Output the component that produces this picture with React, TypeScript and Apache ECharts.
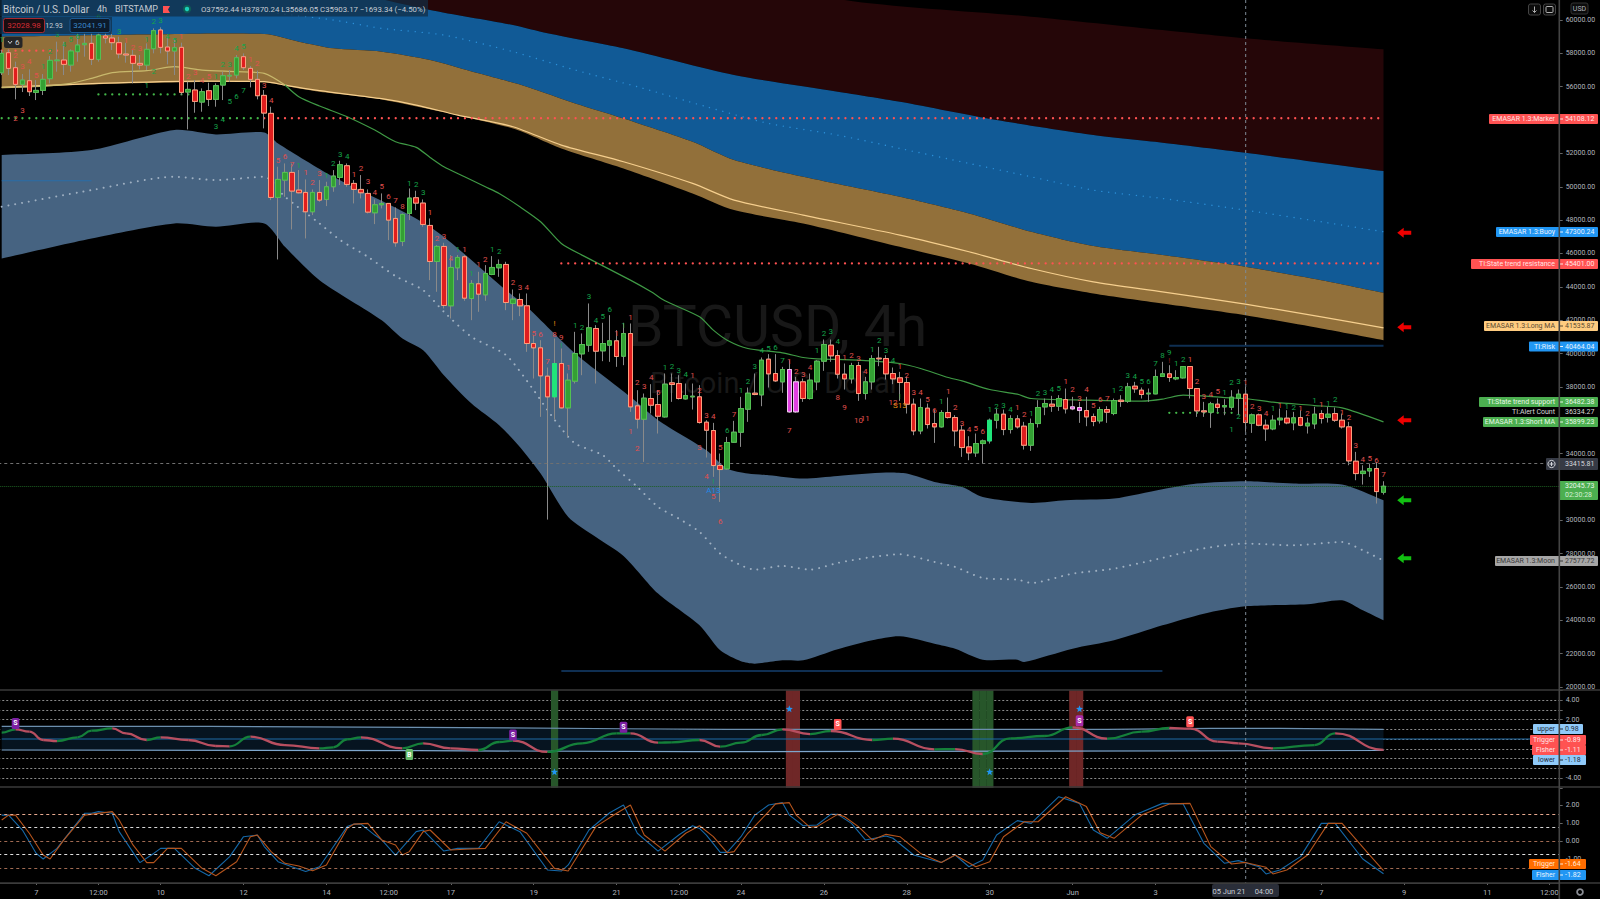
import React, { useEffect, useRef } from "react";
import * as echarts from "echarts";

// ---------- time axis ----------
const barCount = 226;
const tickLabels: Record<number, string> = {
  5: "7", 14: "12:00", 23: "10", 35: "12", 47: "14", 56: "12:00", 65: "17", 77: "19", 89: "21", 98: "12:00",
  107: "24", 119: "26", 131: "28", 143: "30", 155: "Jun", 167: "3", 191: "7", 203: "9", 215: "11", 224: "12:00",
};

// ---------- candles: open, close, low, high ----------
const ohlcPart1 = [
  [56840,58000,56700,58200],[58040,57100,56700,58240],[57140,56140,55240,57500],[56140,56400,55680,56760],[56360,55700,55440,57040],
  [55660,55780,55200,56400],[55780,56440,55500,56760],[56480,57580,56200,57840],[57560,57600,56900,58700],[57600,57340,56700,58700],
  [57300,58140,56900,58240],[58100,58500,57500,59200],[58520,58600,57800,59200],[58600,57640,57300,59200],[57640,59100,57500,60000],
  [59040,58920,58600,59600],[58920,58640,58200,59300],[58640,57960,57700,59000],[57960,57900,57440,58640],[57880,57400,56200,58200],
  [57400,57300,57040,57900],[57300,58240,57000,58600],[58280,59360,58000,59500],[59400,58360,58000,59560],[58380,58140,57340,59000],
  [58140,58340,56700,58900],[58360,55660,55500,58640],[55680,55840,53440,56300],[55800,55120,54440,56400],[55080,55700,54500,55900],
  [55760,55240,54840,56240],[55240,56060,54800,56200],[56100,56660,55200,56900],[56640,56680,56300,57000],[56700,57740,56500,57900],
  [57800,57140,57000,58000],[57100,56440,55960,57240],[56440,55460,55240,56960],[55480,54420,53500,55800],[54400,49360,49200,54800],
  [49360,50440,45640,51200],[50400,50860,49400,51400],[50860,49740,47440,51400],[49800,49640,49600,51000],
];
const ohlcPart2 = [
  [49660,48500,46900,50440],[48500,49660,48300,49840],[49660,49200,49100,50400],[49240,50000,48840,50300],[50000,50640,49700,51000],
  [50560,51320,50100,51560],[51260,50140,50000,51400],[50200,49840,49000,50400],[49840,49640,49300,50700],[49600,48480,48400,49840],
  [48440,48920,47760,49240],[48920,49000,48700,49600],[49000,48000,46800,49000],[48100,46640,46400,48760],[46720,48340,46440,48400],
  [48400,49320,48000,49900],[49340,49020,48600,49760],[49020,47740,47600,49240],[47680,45520,44400,48100],[45520,46420,43700,46500],
  [46420,42880,42700,46640],[42860,45160,42100,45900],[45140,45760,44400,45900],[45800,43320,43160,45900],[43300,44200,42000,44400],
  [44180,43560,42500,44900],[43520,44800,43160,45300],[44740,45160,44700,45840],[45140,45340,44600,45640],[45340,43060,42600,45500],
  [43000,43260,42000,43840],[43240,42860,42240,43600],
];
const ohlcPart3 = [
  [42860,40600,40100,43600],[40600,40340,38500,41100],[40340,38660,36200,40800],[38640,37400,30040,39160],[37400,39400,36040,40900],
  [39400,36740,36700,40300],[36740,38400,35000,38800],[38340,40000,38200,41300],[39980,40540,38700,41200],[40500,41540,40100,43000],
  [41500,40140,38200,41700],[40160,40600,39540,41840],[40500,40760,39500,42300],[40760,39820,39200,41400],[39840,41200,39300,41840],
  [41200,36800,36500,41800],[36860,36060,35500,37800],[36060,37320,33500,37600],[37300,36900,36400,38160],[36940,36240,35200,37800],
  [36200,38160,36160,38800],[38240,38140,37100,38800],[38200,37300,37240,38700],[37280,37480,37240,38200],[37400,37440,36640,38200],
  [37400,35860,35800,38100],[35880,35400,33760,36000],[35380,33280,32600,35840],[33280,33040,31100,34000],[33080,34660,33040,35000],
  [34680,35280,34640,35960],[35280,36700,34400,37400],[36660,37620,35900,37960],[37620,37540,37500,38800],[37520,39600,36840,39760],
  [39660,38780,37960,39960],[38800,38360,38300,39960],[38300,39040,37640,39200],[39040,36500,36440,39600],[36500,38300,36440,38600],
  [38300,37300,37100,38500],[37300,38400,37240,38800],[38300,39540,37800,39600],[39540,40540,38960,40840],[40500,39860,39500,40840],
  [39880,38760,38500,40200],[38760,38480,37840,39400],[38480,39280,38200,39440],[39280,37600,37160,39500],[37600,38300,37240,38600],
  [38300,39700,37840,39900],[39720,39680,39240,40400],[39700,38780,38440,39900],[38800,38480,38160,39160],[38540,38260,37160,38900],
  [38260,36960,36400,38600],[36960,35360,35100,37300],[35360,36760,35160,37300],[36720,35740,35500,37000],[35800,35600,34640,36600],
  [35600,36460,35560,36600],[36460,36160,36100,37360],[36160,35360,34440,36300],
];
const ohlcPart4 = [
  [35400,34360,33800,35700],[34400,34040,33600,35040],[34040,34600,33800,35200],[34600,34760,33400,34840],[34760,36000,34600,36100],
  [36000,36360,35500,36700],[36360,35440,35100,36640],[35440,36100,35200,36300],[36080,35600,35500,36300],[35640,34500,34240,35900],
  [34500,35800,34160,36100],[35800,36760,35560,37200],[36800,37000,36300,37300],[36960,36840,36500,37460],[36840,37300,36560,37500],
  [37240,36680,36400,37900],[36680,36800,36600,37400],[36760,36580,35840,37100],[36580,36200,35640,37400],[36220,35920,35640,36400],
  [35960,36640,35800,36800],[36640,36480,35840,36840],[36400,37180,36300,37300],[37200,37120,36800,37500],[37140,38000,37040,38240],
  [38040,37880,37640,38300],[37800,37540,37300,37960],[37580,37620,37100,37900],[37580,38620,37560,39040],[38620,38780,38600,39500],
  [38780,38560,38300,39300],[38480,38560,38400,39000],[38540,39220,38500,39240],[39220,37900,37300,39240],[37900,36560,36200,37900],
  [36560,36500,36200,37100],[36480,36980,35540,37100],[36960,36760,36500,37300],[36800,36880,36300,37260],[36780,37380,36600,37800],
  [37320,37560,36300,37840],[37560,35860,35300,38000],[35820,36320,35240,36400],[36320,35700,35640,36400],[35700,35480,34760,36040],
  [35480,36000,35400,36300],[36020,36120,35700,36700],[36120,35840,35760,36600],[35840,36140,35400,36500],[36160,35700,35640,36600],
  [35660,35820,35200,36160],[35780,36360,35480,36800],[36400,36100,35800,36600],[36180,36360,35860,36800],[36400,36000,35900,36760],
  [36000,35600,35500,36400],[35600,33560,33300,35900],[33540,32800,32400,34100],[32800,32940,32140,33300],[32960,33100,32600,33400],
  [33100,31720,31000,33500],[31680,32040,31540,32340],
];
const magentaBars = [114, 115, 155, 156];
const brightBars = [80, 143];

// ---------- EMASAR bands: [bar, price] ----------
const redBandTop = [[40,66000],[90,64000],[122,61200],[149,60200],[168,59400],[180,58900],[200,58240]];
const blueBandTop = [[0,65000],[40,62600],[62,60600],[74,59700],[79,59200],[90,58300],[106,56700],[121,55700],[130,55100],[144,54000],[158,53100],[168,52640],[180,52040],[200,50940]];
const orangeBandTop = [[0,59000],[16,59100],[38,59160],[43,58700],[48,58300],[55,58100],[62,57600],[69,56800],[76,56000],[83,55000],[90,54100],[100,52700],[106,51600],[116,50600],[130,49400],[140,48400],[149,47300],[158,46440],[168,45900],[180,45200],[191,44400],[200,43640]];
const orangeBandBottom = [[0,55900],[14,56150],[29,56280],[38,56260],[41,56050],[46,55700],[55,55240],[74,53500],[81,52300],[90,51100],[100,49600],[106,48600],[116,47800],[130,46400],[140,45400],[149,44300],[158,43600],[168,43000],[180,42300],[191,41500],[200,40800]];
const longMA = [[0,55960],[14,56200],[29,56340],[38,56300],[41,56100],[46,55760],[55,55280],[60,54900],[66,54300],[74,53600],[81,52500],[90,51500],[100,50200],[106,49200],[116,48300],[130,47100],[140,46100],[149,45100],[158,44300],[168,43700],[180,42960],[191,42200],[200,41535]];
const buoyDots = [[40,60400],[48,60000],[55,59500],[64,59100],[74,58100],[83,57000],[92,56000],[102,54800],[111,53800],[121,53100],[130,52300],[140,51400],[149,50600],[158,49800],[168,49300],[180,48600],[191,47900],[200,47300]];
const steelTop = [[0,51900],[13,52200],[25,53400],[31,53140],[38,53260],[40,52600],[48,50600],[62,47600],[73,43800],[76,42800],[83,40000],[91,37400],[95,36000],[102,34200],[105,33100],[108,32800],[111,32700],[116,32500],[121,32660],[128,32860],[131,32800],[135,32300],[139,32000],[142,31400],[149,31040],[154,31200],[161,31300],[168,31860],[173,32200],[180,32340],[187,32200],[194,32140],[200,31200]];
const steelBottom = [[0,45700],[13,46900],[25,47800],[31,47600],[38,47800],[41,46400],[46,44400],[55,42000],[58,40900],[61,40200],[64,38700],[68,37000],[72,35700],[75,34400],[78,32800],[82,30200],[86,29000],[90,27860],[95,25600],[101,23700],[104,22200],[107,21540],[109,21400],[113,21600],[116,21600],[121,22260],[126,22800],[130,23040],[135,22600],[138,22300],[142,21640],[147,21640],[148,21500],[155,22300],[161,22800],[168,23700],[174,24400],[180,24840],[189,24960],[194,25200],[197,24600],[200,24000]];
const moonDots = [[0,48800],[13,49800],[25,50600],[31,50400],[38,50600],[41,49400],[46,47800],[49,46800],[53,45800],[57,44640],[61,43800],[64,42500],[68,41000],[73,39900],[77,37800],[79,36600],[81,35500],[83,34600],[87,33900],[89,33100],[92,32000],[95,30800],[98,30100],[101,29300],[104,28000],[107,27300],[109,27040],[113,27260],[117,27040],[121,27440],[126,27800],[130,27960],[135,27500],[138,27200],[142,26540],[147,26440],[149,26240],[155,26800],[161,27100],[168,27740],[173,28240],[180,28600],[187,28500],[194,28700],[197,28200],[200,27577]];
const shortMAEarly = [[0,55960],[6,56040],[10,56200],[13,56500],[16,56840],[21,56960],[25,57200],[29,57000],[34,56900],[38,56800],[41,56100]];
const shortMALate = [[41,56100],[43,55400],[46,54840],[50,54200],[54,53400],[57,52700],[60,52360],[62,51760],[64,51200],[67,50600],[70,50000],[72,49600],[75,48800],[78,47900],[81,46600],[84,45900],[91,44400],[94,43700],[96,43160],[101,42200],[103,41400],[105,40800],[108,40300],[113,40040],[116,39760],[118,39680],[124,39600],[130,39400],[133,39100],[137,38560],[139,38360],[143,37840],[147,37560],[149,37300],[157,37200],[165,37140],[168,37260],[171,37500],[177,37360],[180,37300],[184,37080],[190,36880],[194,36740],[200,35899]];

// ---------- level lines: first bar, last bar, price ----------
const redLevels = [[0,9,58160],[38,200,54108.12],[81,200,45401]];
const greenLevels = [[0,38,54108.12],[14,28,55540],[169,179,36440]];
const navyLevels = [[169,200,40464.04],[81,168,20960]];
const stateLine = [[0,50360],[13,50360]];
const redArrows = [[203,47240],[203,41580],[203,36000]];
const greenArrows = [[203,31200],[203,27720]];

// ---------- trend count numbers: bar, price, text ----------
const greenCounts: [number, number, string][] = [
  [0,58840,"1"],[6,57240,"1"],[7,58140,"2"],[8,59160,"3"],[9,58560,"4"],[10,58860,"5"],[11,59000,"6"],[14,60200,"6"],[17,59340,"3"],[21,58860,"1"],
  [22,59900,"2"],[23,59960,"3"],[24,59040,"4"],[25,58800,"5"],[31,56640,"1"],[32,57340,"2"],[33,57340,"3"],[34,58300,"4"],[35,58400,"5"],[43,51260,"1"],
  [47,50700,"1"],[48,51400,"2"],[49,51960,"3"],[50,51800,"4"],[59,50200,"1"],[60,50160,"2"],[61,49660,"3"],[66,46240,"1"],[68,44800,"1"],[71,46260,"1"],[72,46100,"2"],
  [21,56060,"1"],[22,56900,"2"],[33,55100,"5"],[34,55440,"6"],[35,55760,"7"],[32,54060,"4"],[31,53640,"3"],
  [83,41700,"1"],[84,41540,"2"],[85,43400,"3"],[86,41960,"4"],[87,42240,"5"],[88,42640,"6"],[90,41660,"1"],[96,39160,"1"],[97,39240,"2"],[98,38960,"3"],[99,38760,"4"],
  [105,35400,"6"],[107,37800,"1"],[108,38340,"2"],[109,39200,"3"],[110,40200,"4"],[111,40300,"5"],[112,40360,"6"],[113,39600,"7"],[118,40160,"1"],[119,41200,"2"],[120,41300,"3"],[121,40740,"4"],
  [126,40260,"1"],[127,40800,"2"],[128,40160,"3"],[129,39600,"4"],[136,37140,"1"],[143,36640,"1"],[144,36800,"2"],[81,40500,"!"],[103,32300,"!"],[130,37400,"!"],
  [145,36880,"3"],[146,36660,"4"],[149,36400,"1"],[150,37620,"2"],[151,37680,"3"],[152,37840,"4"],[153,37920,"5"],[161,37780,"1"],[162,37900,"2"],[163,38660,"3"],[164,38600,"4"],
  [165,38340,"5"],[166,38300,"6"],[167,39420,"7"],[168,39860,"8"],[169,40040,"9"],[170,39400,"1"],[171,39660,"2"],[177,37680,"1"],[178,38280,"2"],[179,38300,"3"],[184,36680,"1"],
  [186,36820,"1"],[187,36780,"2"],[190,37180,"1"],[192,37000,"1"],[193,37220,"2"],[179,36200,"2"],[178,35460,"1"],
];
const redCounts: [number, number, string][] = [
  [2,57900,"2"],[3,57240,"3"],[4,57500,"4"],[5,56700,"5"],[18,58800,"1"],[19,58340,"2"],[20,58300,"3"],[26,59040,"1"],[27,56640,"2"],[28,56840,"3"],[29,56400,"4"],[30,56640,"5"],
  [36,57640,"1"],[37,57400,"2"],[38,56060,"3"],[39,55200,"4"],[40,51600,"5"],[41,51800,"6"],[42,51360,"7"],[44,50860,"1"],[45,50260,"2"],[46,50800,"3"],[51,50740,"1"],[52,51100,"2"],
  [53,50300,"3"],[54,49660,"4"],[55,50040,"5"],[56,49400,"6"],[57,49200,"7"],[58,48800,"8"],[62,48460,"1"],[63,46900,"2"],[64,47040,"3"],[65,45700,"4"],[67,46240,"1"],[69,45340,"1"],[70,45660,"2"],
  [3,54560,"3"],[2,54100,"2"],
  [74,44240,"2"],[75,43960,"3"],[76,43960,"4"],[77,41200,"5"],[78,41140,"6"],[79,39540,"7"],[80,41140,"8"],[81,40960,"9"],[82,39140,"1"],[89,41200,"1"],[91,42160,"1"],[92,38260,"2"],[93,38000,"3"],
  [94,38540,"4"],[95,37640,"5"],[100,38660,"1"],[101,37800,"2"],[102,36300,"3"],[103,36240,"4"],[104,34340,"5"],[106,36360,"7"],[114,39540,"1"],[115,38900,"2"],[116,38740,"3"],[117,39140,"4"],
  [122,39760,"1"],[123,39860,"2"],[124,39700,"3"],[125,38900,"4"],[130,39240,"1"],[131,38700,"2"],[132,37660,"3"],[133,37660,"4"],[134,37240,"5"],[135,36600,"6"],[137,37740,"1"],[138,36760,"2"],
  [139,35800,"3"],[140,35440,"4"],[141,35500,"5"],[142,35340,"6"],
  [91,35300,"1"],[92,34300,"2"],[101,34380,"3"],[102,32600,"4"],[103,31440,"5"],[104,29900,"6"],[114,35360,"7"],[121,37340,"8"],[122,36780,"9"],[124,36000,"10"],[125,36100,"11"],[129,37040,"12"],
  [147,36740,"1"],[148,36360,"2"],[154,38300,"1"],[155,37840,"2"],[156,37320,"3"],[157,37820,"4"],[158,36900,"5"],[159,37240,"6"],[160,37300,"7"],[172,39660,"1"],[173,38340,"2"],[174,37440,"3"],
  [175,37540,"4"],[176,37700,"5"],[180,38260,"1"],[181,36800,"2"],[182,36720,"3"],[183,36400,"4"],[185,36880,"1"],[188,36700,"1"],[189,36380,"2"],[191,36940,"1"],[194,36480,"1"],[195,36160,"2"],
  [196,34500,"3"],[197,33660,"4"],[198,33700,"5"],[199,33560,"6"],[200,32760,"7"],
];
const orangeCounts: [number, number, string][] = [[80,41800,"!"],[130,36880,"S13"]];
const blueCounts: [number, number, string][] = [[103,31800,"A13"]];
const darkRedCounts: [number, number, string][] = [[169,39560,"!"]];

// ---------- Fisher ribbon pane ----------
const ribbonPoints = [[0,0.65],[2,0.99],[4,0.75],[6,-0.1],[8,-0.21],[11,0.17],[13,0.85],[16,1.09],[18,0.58],[21,-0.1],[23,0.17],[27,-0.1],[31,-0.72],[33,-0.75],[36,0.24],[41,-0.62],[46,-0.96],[48,-0.85],[50,-0.03],[52,0.17],[58,-0.96],[61,-0.44],[65,-0.96],[69,-1.13],[72,-0.31],[74,-0.17],[79,-1.33],[84,-0.44],[89,0.58],[91,0.58],[95,-0.38],[97,-0.34],[101,-0.1],[104,-0.79],[107,-0.38],[110,0.41],[113,0.99],[117,0.51],[120,0.82],[126,-0.1],[129,0.03],[135,-1.06],[138,-1.03],[142,-1.54],[146,0.07],[151,0.31],[155,1.2],[160,0.03],[165,0.75],[169,1.13],[172,1.06],[176,-0.27],[179,-0.44],[184,-0.96],[190,-0.62],[193,0.58],[200,-1.11]];
const upperBand = [[0,1.3],[30,1.3],[60,1.2],[90,1.05],[105,0.98],[160,0.98],[175,1.1],[185,1.1],[200,0.98]];
const lowerBand = [[0,-1.13],[60,-1.2],[100,-1.3],[150,-1.25],[200,-1.18]];
const greenHighlights = [80, 141, 142, 143];
const redHighlights = [114, 115, 155, 156];
const signalStars = [[80,-3.35],[114,3.1],[143,-3.35],[156,3.1]];
const signalBadges: [number, number, string, string][] = [[2,1.6,"S","purple"],[59,-1.6,"B","green"],[74,0.41,"S","purple"],[90,1.2,"S","purple"],[121,1.5,"S","red"],[156,1.88,"S","magenta"],[172,1.77,"S","red"]];

// ---------- Fisher lines pane ----------
const fisherLine = [[0,1.44],[1,1.44],[3,0.61],[5,-0.69],[6,-1],[8,-0.41],[12,1.54],[13,1.54],[14,1.63],[16,1.54],[17,0.52],[20,-1.2],[22,-0.69],[23,-0.41],[25,-0.41],[28,-1.52],[30,-1.93],[33,-0.87],[35,0.24],[37,0.33],[38,-0.31],[40,-1.15],[42,-1.43],[44,-1.7],[46,-1.43],[50,0.8],[51,0.94],[52,0.94],[54,0.33],[55,0.06],[57,-0.78],[60,0.52],[61,0.61],[64,-0.56],[66,-0.41],[69,-0.41],[72,1.07],[75,0.52],[79,-1.61],[81,-1.67],[82,-1.33],[85,0.61],[88,1.57],[90,2],[92,0.43],[95,-0.56],[98,0.33],[100,0.85],[101,0.7],[102,0.33],[104,-0.63],[105,-0.63],[107,0.24],[109,1.44],[111,2],[113,2.13],[114,1.44],[116,0.85],[118,0.89],[120,1.48],[121,1.48],[123,0.98],[125,0.06],[128,0.28],[129,0.15],[132,-0.78],[136,-1.19],[138,-0.78],[140,-1.43],[142,-1.06],[144,0.33],[147,1.13],[149,0.98],[153,2.46],[156,2.09],[158,0.61],[160,0.15],[164,1.44],[168,2.09],[171,2.06],[174,-0.13],[177,-1.24],[179,-1.09],[182,-1.43],[183,-1.83],[185,-1.61],[188,-0.87],[191,0.98],[193,0.98],[197,-1],[200,-1.82]];
const triggerLine = [[0,1.17],[1,1.44],[2,1.44],[4,0.43],[6,-0.78],[7,-1],[9,0.06],[12,1.44],[16,1.63],[17,1.17],[19,-0.22],[21,-1.2],[22,-1.2],[24,-0.41],[26,-0.41],[29,-1.52],[31,-1.93],[34,-1.15],[36,0.24],[37,0.33],[39,-0.59],[41,-1.24],[43,-1.39],[45,-1.65],[47,-1.33],[50,0.7],[51,0.94],[53,0.98],[55,0.06],[57,-0.22],[58,-0.78],[59,-0.59],[61,0.52],[62,0.61],[65,-0.5],[67,-0.46],[70,-0.41],[73,1.07],[76,0.43],[80,-1.52],[82,-1.67],[83,-1.06],[86,0.8],[89,1.54],[91,2],[93,0.33],[96,-0.56],[99,0.43],[101,0.85],[103,0.24],[105,-0.65],[106,-0.59],[108,0.43],[111,1.63],[112,2.06],[114,2.13],[115,1.44],[117,0.76],[118,0.8],[121,1.48],[122,1.35],[124,0.8],[126,0.06],[128,0.37],[130,0.24],[133,-0.69],[136,-1.19],[138,-0.78],[141,-1.43],[143,-1.15],[145,0.24],[148,1.07],[150,1.07],[154,2.46],[157,1.91],[159,0.46],[161,0.15],[165,1.44],[169,2.06],[172,2.09],[175,-0.31],[178,-1.28],[180,-1.19],[183,-1.46],[184,-1.83],[186,-1.61],[189,-0.78],[192,0.98],[194,0.98],[198,-0.78],[200,-1.64]];
const fisherLevels = [1.5, 0.75, 0, -0.75, -1.5];

// ---------- price tags ----------
const tagNames = ["EMASAR 1.3:Marker","EMASAR 1.3:Buoy","TI:State trend resistance","EMASAR 1.3:Long MA","TI:Risk","TI:State trend support","EMASAR 1.3:Short MA","EMASAR 1.3:Moon"];
const tagValues = ["54108.12","47300.24","45401.00","41535.87","40464.04","36482.38","35899.23","27577.72"];
const paneTagNames = ["upper","Trigger","Fisher","lower","Trigger","Fisher"];
const paneTagValues = ["0.98","-0.89","-1.11","-1.18","-1.64","-1.82"];
const headerTexts = ["Bitcoin / U.S. Dollar","4h","BITSTAMP","O37592.44 H37870.24 L35686.05 C35903.17 −1693.34 (−4.50%)"];

// ---------- layout and styling, apart from the values ----------
const BAR = 6.909;
const PANE_FONT = "7px Roboto";
const tagStyle = [
  { left: 1489, y: 119, bg: "#ff5252", fg: "#ffe4e4" }, { left: 1496, y: 232, bg: "#2196f3", fg: "#e8f4ff" },
  { left: 1471, y: 264, bg: "#ff5252", fg: "#ffe4e4" }, { left: 1484, y: 326, bg: "#ffcc80", fg: "#5a4a30" },
  { left: 1529, y: 346.5, bg: "#2196f3", fg: "#e8f4ff" }, { left: 1479, y: 402, bg: "#4caf50", fg: "#e6f7e6" },
  { left: 1483, y: 422, bg: "#4caf50", fg: "#e6f7e6" }, { left: 1495, y: 561, bg: "#a6a6a6", fg: "#3a3a3a" },
];
const paneTagStyle = [
  { left: 1533, right: 1583, y: 729, bg: "#90caf9", fg: "#1f2d3d" }, { left: 1530, right: 1586, y: 740, bg: "#ff5252", fg: "#ffe4e4" },
  { left: 1532, right: 1586, y: 750, bg: "#ff5252", fg: "#ffe4e4" }, { left: 1533, right: 1586, y: 760, bg: "#90caf9", fg: "#1f2d3d" },
  { left: 1529, right: 1586, y: 864, bg: "#ff6d00", fg: "#ffe9d6" }, { left: 1532, right: 1586, y: 875, bg: "#2196f3", fg: "#e8f4ff" },
];
const badgeColors: Record<string, string> = { purple: "#7b1fa2", green: "#66bb6a", red: "#ff5252", magenta: "#a82ca8" };
const fisherLevelColors = ["#e8a98f", "#d8d8d8", "#a06a52", "#e0e0e0", "#a06a52"];

const polygonSeries = (top: number[][], bottom: number[][], fill: string, axis = 0, smooth = 0.25) => ({
  type: "custom", xAxisIndex: axis, yAxisIndex: axis, silent: true, z: 1, clip: false, data: [[0, 0]],
  renderItem: (_: any, api: any) => {
    // the corners are doubled so that the smoothing keeps the ends of the band square
    const ring = [top[0], ...top, top[top.length - 1], bottom[bottom.length - 1], ...[...bottom].reverse(), bottom[0]];
    return { type: "polygon", shape: { points: ring.map((p) => api.coord(p)), smooth }, style: { fill } };
  },
});
const lineSeries = (data: number[][], color: string, width: number, axis = 0, extra: any = {}) => ({
  type: "line", xAxisIndex: axis, yAxisIndex: axis, data, showSymbol: false, silent: true, z: 3,
  lineStyle: { color, width }, ...extra,
});
const dotSeries = (data: number[][], color: string, width = 2) => ({
  ...lineSeries(data, color, width, 0, { z: 3 }),
  smooth: data.length > 2 ? 0.25 : false,
  lineStyle: { color, width, type: [0.01, BAR], cap: "round" },
});
const countSeries = (items: [number, number, string][], fill: string) => ({
  type: "custom", xAxisIndex: 0, yAxisIndex: 0, silent: true, z: 6, clip: false,
  data: items.map((d) => [d[0], d[1]]),
  renderItem: (p: any, api: any) => {
    const [x, y] = api.coord([api.value(0), api.value(1)]);
    return { type: "text", x, y, style: { text: items[p.dataIndex][2], fill, font: "8px Roboto", align: "center", verticalAlign: "middle", textAlign: "center", textVerticalAlign: "middle" } };
  },
});

const txt = (text: string, x: number, y: number, fill: string, font = PANE_FONT, align = "left", z = 110) => ({
  type: "text", x, y, z, silent: true,
  style: { text, fill, font, align, verticalAlign: "middle", textAlign: align, textVerticalAlign: "middle" },
});
const box = (x: number, y: number, width: number, height: number, fill: string, stroke?: string, z = 105, r = 1) => ({
  type: "rect", z, silent: true, shape: { x, y, width, height, r }, style: { fill, stroke, lineWidth: stroke ? 1 : 0 },
});
const rule = (x1: number, y1: number, x2: number, y2: number, stroke: string, lineWidth = 1, lineDash?: number[], z = 120) => ({
  type: "line", z, silent: true, shape: { x1, y1, x2, y2 }, style: { stroke, lineWidth, lineDash },
});

function buildOption() {
  const ohlc = [...ohlcPart1, ...ohlcPart2, ...ohlcPart3, ...ohlcPart4];
  const categories = Array.from({ length: barCount }, (_, i) => tickLabels[i] ?? "");
  const showTick = (i: number) => tickLabels[i] !== undefined;
  const bodies = ohlc.map(([o, c], i) => {
    const value = [o, c, Math.min(o, c), Math.max(o, c)];
    if (magentaBars.includes(i)) return { value, itemStyle: { color: "#e040e0", color0: "#e040e0", borderColor: "#f0c8f0", borderColor0: "#f0c8f0" } };
    if (brightBars.includes(i)) return { value, itemStyle: { color: "#1fe57a", color0: "#1fe57a", borderColor: "#1fe57a", borderColor0: "#1fe57a" } };
    return { value };
  });

  const left = -1.75;
  const width = barCount * BAR;
  const grids = [
    { left, width, top: 0, height: 687, outerBoundsMode: "none" },
    { left, width, top: 690.25, height: 97.5, outerBoundsMode: "none" },
    { left, width, top: 787, height: 90, outerBoundsMode: "none" },
  ];
  const xAxis = grids.map((_, i) => ({
    type: "category", gridIndex: i, data: categories, boundaryGap: true,
    axisLine: { show: i === 2, onZero: false, lineStyle: { color: "#444" } },
    offset: i === 2 ? 6 : 0,
    axisTick: { show: i === 2, alignWithLabel: true, interval: (n: number) => showTick(n), length: 2, lineStyle: { color: "#666" } },
    axisLabel: { show: i === 2, interval: 0, color: "#b2b5be", fontFamily: "Roboto", fontSize: 7.5, margin: 5 },
    splitLine: { show: false },
  }));
  const axisCommon = {
    position: "right", axisLine: { show: false }, axisTick: { show: true, length: 3, lineStyle: { color: "#666" } },
    splitLine: { show: false },
  };
  const yAxis = [
    { ...axisCommon, type: "value", gridIndex: 0, min: 20000, max: 61200, interval: 2000,
      axisLabel: { color: "#b2b5be", fontFamily: "Roboto", fontSize: 7, margin: 6, showMaxLabel: false, formatter: (v: number) => v.toFixed(2) } },
    { ...axisCommon, type: "value", gridIndex: 1, min: -5, max: 5, interval: 1,
      axisLabel: { color: "#b2b5be", fontFamily: "Roboto", fontSize: 7, margin: 6, formatter: (v: number) => (Math.abs(v) % 2 === 0 ? v.toFixed(2) : "") },
      splitLine: { show: true, showMinLine: false, showMaxLine: false, lineStyle: { color: "#8a8a8a", type: [2, 2], width: 1 } } },
    { ...axisCommon, type: "value", gridIndex: 2, min: -2, max: 3, interval: 1,
      axisLabel: { color: "#b2b5be", fontFamily: "Roboto", fontSize: 7, margin: 6, showMaxLabel: false, formatter: (v: number) => v.toFixed(2) } },
  ];

  const series: any[] = [
    polygonSeries(redBandTop, blueBandTop, "#250608"),
    polygonSeries(blueBandTop, orangeBandTop, "#115a96"),
    polygonSeries(orangeBandTop, orangeBandBottom, "#92703a"),
    polygonSeries(steelTop, steelBottom, "#466381"),
    lineSeries(stateLine, "#2a6ca8", 1),
    lineSeries(longMA, "#f6cf8e", 1.2, 0, { smooth: 0.25 }),
    lineSeries(shortMAEarly, "#c8b86c", 1.2, 0, { smooth: 0.25 }),
    lineSeries(shortMALate, "#3f9a45", 1.2, 0, {
      smooth: 0.25,
      markLine: {
        silent: true, symbol: "none", animation: false, label: { show: false },
        data: [
          { yAxis: 33415.81, lineStyle: { color: "#707070", type: [3, 3], width: 1 } },
          { yAxis: 32045.73, lineStyle: { color: "#1c5f22", type: [1, 1], width: 1 } },
        ],
      },
    }),
    dotSeries(buoyDots, "#2b8fd8", 1.4),
    dotSeries(moonDots, "#9fb0c2"),
    ...redLevels.map(([a, b, v]) => dotSeries([[a, v], [b, v]], "#ff5252", 2.3)),
    ...greenLevels.map(([a, b, v]) => dotSeries([[a, v], [b, v]], "#43b649", 2.3)),
    ...navyLevels.map(([a, b, v]) => lineSeries([[a, v], [b, v]], "#0f2f52", 2)),
    {
      type: "candlestick", xAxisIndex: 0, yAxisIndex: 0, data: ohlc, barWidth: 5, z: 4, silent: true,
      itemStyle: { color: "#8a8a8a", color0: "#8a8a8a", borderColor: "#8a8a8a", borderColor0: "#8a8a8a", borderWidth: 1 },
    },
    {
      type: "candlestick", xAxisIndex: 0, yAxisIndex: 0, data: bodies, barWidth: 5, z: 5, silent: true,
      itemStyle: { color: "#34a034", color0: "#e01e1e", borderColor: "#52c152", borderColor0: "#ff9d7d", borderWidth: 1 },
    },
    countSeries(greenCounts, "#15a34a"),
    countSeries(redCounts, "#e0504f"),
    countSeries(orangeCounts, "#e08a10"),
    countSeries(blueCounts, "#1e88e5"),
    countSeries(darkRedCounts, "#8a1c1c"),
    {
      type: "scatter", xAxisIndex: 0, yAxisIndex: 0, data: redArrows, silent: true, z: 7,
      symbol: "path://M0,5 L6,0 L6,3 L13,3 L13,7 L6,7 L6,10 Z", symbolSize: [14, 10], itemStyle: { color: "#f00000", opacity: 1 },
    },
    {
      type: "scatter", xAxisIndex: 0, yAxisIndex: 0, data: greenArrows, silent: true, z: 7,
      symbol: "path://M0,5 L6,0 L6,3 L13,3 L13,7 L6,7 L6,10 Z", symbolSize: [14, 10], itemStyle: { color: "#12c012", opacity: 1 },
    },
    // Fisher ribbon pane
    {
      type: "custom", xAxisIndex: 1, yAxisIndex: 1, silent: true, z: 2, clip: false,
      data: [...greenHighlights.map((k) => [k, 0]), ...redHighlights.map((k) => [k, 1])],
      renderItem: (_: any, api: any) => {
        const w = api.size([1, 0])[0];
        const [x, y0] = api.coord([api.value(0), 5]);
        const [, y1] = api.coord([api.value(0), -5]);
        return { type: "rect", shape: { x: x - w / 2, y: y0, width: w + 0.3, height: y1 - y0 }, style: { fill: api.value(1) ? "#6f2727" : "#27562a" } };
      },
    },
    polygonSeries(upperBand, lowerBand, "#061420", 1, 0),
    lineSeries([[0, 0], [225, 0]], "#1f6aa5", 1, 1),
    lineSeries(upperBand, "#6c8fae", 1.2, 1),
    lineSeries(lowerBand, "#7ea6cc", 1.2, 1),
    {
      type: "custom", xAxisIndex: 1, yAxisIndex: 1, silent: true, z: 4, clip: false,
      data: ribbonPoints.slice(1).map((_, i) => [i, 0]),
      renderItem: (p: any, api: any) => {
        const a = ribbonPoints[p.dataIndex];
        const b = ribbonPoints[p.dataIndex + 1];
        const [x1, y1] = api.coord(a);
        const [x2, y2] = api.coord(b);
        const mid = (x1 + x2) / 2;
        return {
          type: "bezierCurve",
          shape: { x1, y1, x2, y2, cpx1: mid, cpy1: y1, cpx2: mid, cpy2: y2 },
          style: { fill: "none", stroke: b[1] >= a[1] ? "#15803a" : "#b84f60", lineWidth: 2.3 },
        };
      },
    },
    {
      type: "scatter", xAxisIndex: 1, yAxisIndex: 1, data: signalStars, symbol: "path://M5,0 L6.3,3.6 L10,3.8 L7.1,6.1 L8.1,9.8 L5,7.7 L1.9,9.8 L2.9,6.1 L0,3.8 L3.7,3.6 Z",
      symbolSize: 7, silent: true, z: 6, itemStyle: { color: "#2196f3", opacity: 1 },
    },
    {
      type: "custom", xAxisIndex: 1, yAxisIndex: 1, silent: true, z: 6, clip: false,
      data: signalBadges.map((d) => [d[0], d[1]]),
      renderItem: (p: any, api: any) => {
        const [x, y] = api.coord([api.value(0), api.value(1)]);
        const b = signalBadges[p.dataIndex];
        return {
          type: "group",
          children: [
            { type: "rect", shape: { x: x - 3.8, y: y - 5.5, width: 7.6, height: 11, r: 1.5 }, style: { fill: badgeColors[b[3]] } },
            { type: "text", x, y, style: { text: b[2], fill: "#fff", font: "bold 7px Roboto", align: "center", verticalAlign: "middle", textAlign: "center", textVerticalAlign: "middle" } },
          ],
        };
      },
    },
    // Fisher lines pane
    lineSeries(fisherLine, "#1568a8", 1.1, 2),
    lineSeries(triggerLine, "#b5541c", 1.1, 2, {
      markLine: {
        silent: true, symbol: "none", animation: false, label: { show: false },
        data: fisherLevels.map((v, i) => ({ yAxis: v, lineStyle: { color: fisherLevelColors[i], type: [3, 3], width: 1 } })),
      },
    }),
  ];

  const tags: any[] = [];
  tagNames.forEach((name, i) => {
    const s = tagStyle[i];
    tags.push(box(s.left, s.y - 5, 1598 - s.left, 10, s.bg));
    tags.push(txt(name, 1555, s.y, s.fg, PANE_FONT, "right"));
    tags.push(rule(1560, s.y, 1563, s.y, s.fg, 1, undefined, 110));
    tags.push(txt(tagValues[i], 1565, s.y, s.fg));
  });
  tags.push(box(1509, 407, 89, 10, "#000"), txt("TI:Alert Count", 1555, 412, "#d8d8d8", PANE_FONT, "right"), txt("36334.27", 1565, 412, "#d8d8d8"));
  tags.push(box(1559, 481, 39, 19, "#4caf50"), txt("32045.73", 1565, 486, "#eaf7ea"), txt("02:30:28", 1565, 495, "#d5efd5"));
  tags.push(box(1546, 458, 52, 12, "#363a45"), txt("33415.81", 1565, 464, "#d6d8dd"));
  tags.push({ type: "circle", z: 110, silent: true, shape: { cx: 1551.5, cy: 464, r: 3.6 }, style: { fill: "none", stroke: "#d6d8dd", lineWidth: 1 } });
  tags.push(rule(1549.5, 464, 1553.5, 464, "#d6d8dd", 1, undefined, 111), rule(1551.5, 462, 1551.5, 466, "#d6d8dd", 1, undefined, 111));
  paneTagNames.forEach((name, i) => {
    const s = paneTagStyle[i];
    tags.push(box(s.left, s.y - 5, s.right - s.left, 10, s.bg));
    tags.push(txt(name, 1555, s.y, s.fg, PANE_FONT, "right"));
    tags.push(rule(1560, s.y, 1563, s.y, s.fg, 1, undefined, 110));
    tags.push(txt(paneTagValues[i], 1565, s.y, s.fg));
  });

  const graphic = [
    { type: "text", z: 0, silent: true, x: 628, y: 326, style: { text: "BTCUSD, 4h", fill: "#181818", font: "57px Roboto", verticalAlign: "middle", textVerticalAlign: "middle" } },
    { type: "text", z: 0, silent: true, x: 650, y: 383, style: { text: "Bitcoin / U.S. Dollar", fill: "#181818", font: "29px Roboto", verticalAlign: "middle", textVerticalAlign: "middle" } },
    // header
    box(0, 0, 428, 16.5, "rgba(18,44,66,0.72)", undefined, 100, 0),
    box(0, 17, 112, 17, "rgba(18,44,66,0.72)", undefined, 100, 0),
    txt(headerTexts[0], 3, 9, "#c6cbd2", "10px Roboto"),
    txt(headerTexts[1], 97, 9, "#c6cbd2", "9px Roboto"),
    txt(headerTexts[2], 115, 9, "#c6cbd2", "9px Roboto"),
    { type: "polygon", z: 110, silent: true, shape: { points: [[163, 6], [170, 6], [168, 9.5], [170, 13], [163, 13]] }, style: { fill: "#ff5252" } },
    { type: "circle", z: 110, silent: true, shape: { cx: 187, cy: 9, r: 4.2 }, style: { fill: "#0f5a56" } },
    { type: "circle", z: 111, silent: true, shape: { cx: 187, cy: 9, r: 2.2 }, style: { fill: "#1ad0b8" } },
    txt(headerTexts[3], 201, 9, "#c6cbd2", "7.8px Roboto"),
    box(3.5, 18.5, 41, 14, "#1a0c10", "#a82a32", 105, 2),
    txt("32028.98", 24, 25.7, "#d42c34", "8px Roboto", "center"),
    txt("12.93", 54, 25.7, "#c6cbd2", "7px Roboto", "center"),
    box(70, 18.5, 40, 14, "#0c1a2a", "#1c5a94", 105, 2),
    txt("32041.91", 90, 25.7, "#3a86c8", "8px Roboto", "center"),
    box(4, 37, 18.5, 11, "#262626", undefined, 105, 2),
    rule(8, 41, 10, 43.5, "#d0d0d0", 1, undefined, 110), rule(12, 41, 10, 43.5, "#d0d0d0", 1, undefined, 110),
    txt("6", 15, 42.5, "#d0d0d0", "8px Roboto"),
    // top right and bottom right controls
    box(1528.5, 4, 12, 11, "#0c0c0c", "#444", 105, 2),
    rule(1534.5, 6.5, 1534.5, 12.5, "#b0b0b0"), rule(1532.5, 10.5, 1534.5, 12.5, "#b0b0b0"), rule(1536.5, 10.5, 1534.5, 12.5, "#b0b0b0"),
    box(1543.5, 4, 12, 11, "#0c0c0c", "#444", 105, 2),
    box(1546, 6.5, 7, 6, "none", "#b0b0b0", 110, 1),
    box(1571, 3, 17, 11, "#0c0c0c", "#333", 105, 2),
    txt("USD", 1579.5, 9, "#b2b5be", "7px Roboto", "center"),
    { type: "ring", z: 110, silent: true, shape: { cx: 1580, cy: 892, r: 3.8, r0: 2 }, style: { fill: "#8a8d94" } },
    // crosshair
    rule(1245.7, 0, 1245.7, 883, "#7e8a96", 1, [3, 3], 8),
    box(1212, 884, 67, 13, "#2a2e39", undefined, 105, 2),
    txt("05 Jun 21", 1229, 891, "#c8ccd4", "7.5px Roboto", "center"),
    txt("04:00", 1264, 891, "#c8ccd4", "7.5px Roboto", "center"),
    ...tags,
    // separators
    rule(0, 690, 1600, 690, "#3a3a3a", 1.5), rule(0, 787, 1600, 787, "#3a3a3a", 1.5), rule(0, 883, 1600, 883, "#3a3a3a", 1.5),
    rule(1559.3, 0, 1559.3, 899, "#444", 1.6),
  ];

  return { animation: false, backgroundColor: "#000", grid: grids, xAxis, yAxis, series, graphic };
}

export default function App() {
  const ref = useRef<HTMLDivElement>(null);
  useEffect(() => {
    document.body.style.margin = "0";
    document.body.style.background = "#000";
    const chart = echarts.init(ref.current!, null, { renderer: "svg", width: 1600, height: 899 });
    chart.setOption(buildOption() as any);
    return () => chart.dispose();
  }, []);
  return <div ref={ref} style={{ position: "fixed", left: 0, top: 0, width: 1600, height: 899 }} />;
}
